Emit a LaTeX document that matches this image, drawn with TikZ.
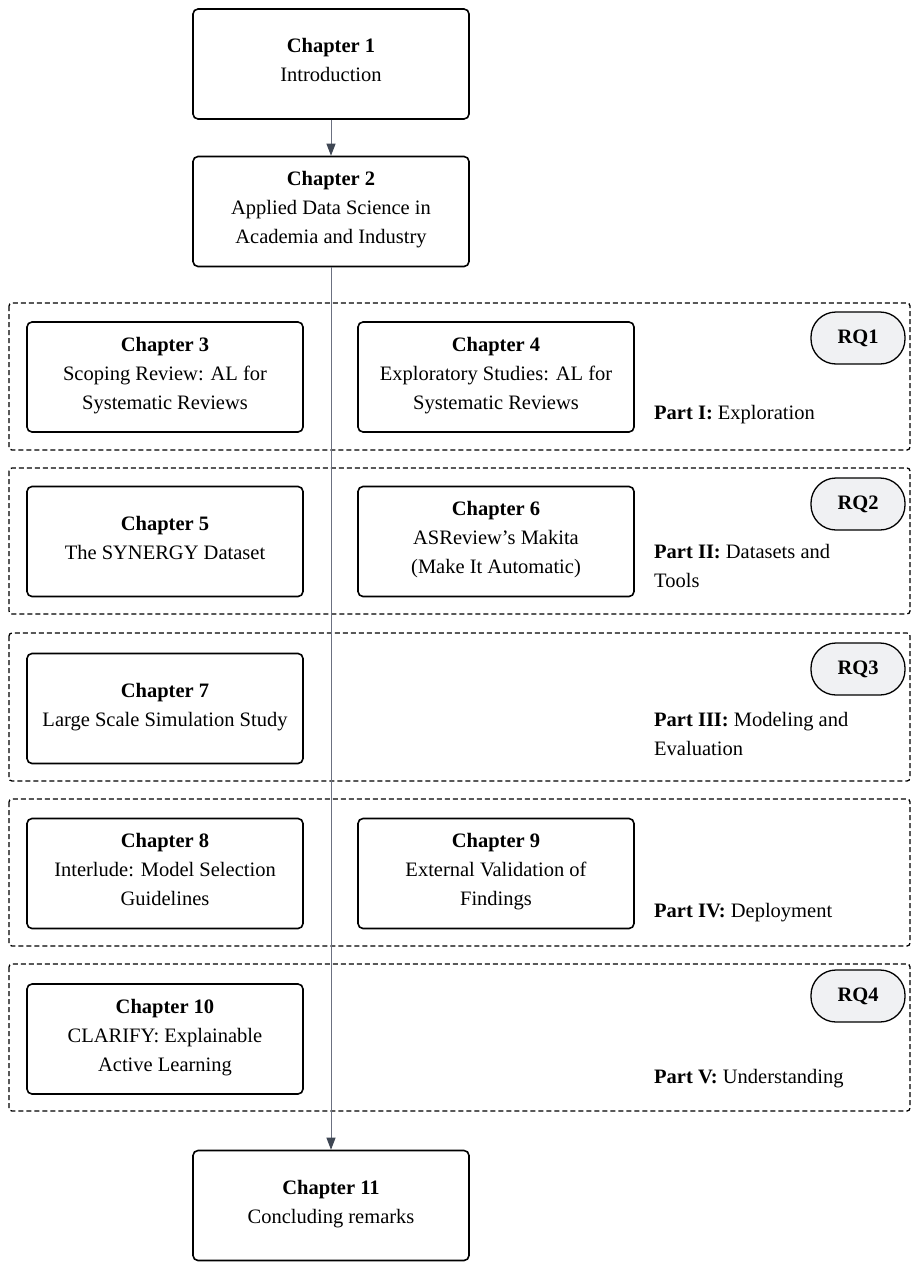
\documentclass[tikz,border=0pt]{standalone}
\usepackage{fontspec}
\setmainfont{Liberation Serif}
\usetikzlibrary{arrows.meta}
\definecolor{linegray}{HTML}{6B7080}
\definecolor{arrowdark}{HTML}{3F4754}
\definecolor{rqfill}{HTML}{F0F1F3}
\tikzset{
  chbox/.style={draw=black, line width=1.6pt, rounded corners=5pt, minimum width=276pt, minimum height=110pt, align=center, font=\fontsize{20.5}{29}\selectfont, inner sep=0pt, text depth=8pt},
  groupbox/.style={draw=black, line width=1.3pt, dashed, dash pattern=on 5pt off 3pt, rounded corners=3pt},
  rqnode/.style={draw=black, line width=1.3pt, fill=rqfill, rounded corners=25pt, minimum width=94pt, minimum height=52pt, font=\fontsize{20.5}{23}\selectfont\bfseries, inner sep=0pt},
  partlabel/.style={anchor=west, align=left, font=\fontsize{20.5}{29}\selectfont, inner sep=0pt},
  flowline/.style={draw=linegray, line width=1pt},
  flowarrow/.style={-{Triangle[length=12pt,width=9pt,color=arrowdark]}}
}
\begin{document}
\begin{tikzpicture}[x=1pt,y=-1pt]
\useasboundingbox (0,0) rectangle (914,1266);
% groups
\draw[groupbox] (9,303) rectangle (910,450);
\draw[groupbox] (9,468) rectangle (910,614);
\draw[groupbox] (9,633) rectangle (910,781);
\draw[groupbox] (9,799) rectangle (910,946);
\draw[groupbox] (9,964) rectangle (910,1111);
% chapters
\node[chbox] (c1) at (331,64) {\textbf{Chapter 1}\\Introduction};
\node[chbox] (c2) at (331,211.5) {\textbf{Chapter 2}\\Applied Data Science in\\Academia and Industry};
\node[chbox] (c3) at (165,377) {\textbf{Chapter 3}\\Scoping Review: AL for\\Systematic Reviews};
\node[chbox] (c4) at (496,377) {\textbf{Chapter 4}\\Exploratory Studies: AL for\\Systematic Reviews};
\node[chbox] (c5) at (165,541.5) {\textbf{Chapter 5}\\The SYNERGY Dataset};
\node[chbox] (c6) at (496,541.5) {\textbf{Chapter 6}\\ASReview's Makita\\(Make It Automatic)};
\node[chbox] (c7) at (165,708.5) {\textbf{Chapter 7}\\Large Scale Simulation Study};
\node[chbox] (c8) at (165,873.5) {\textbf{Chapter 8}\\Interlude: Model Selection\\Guidelines};
\node[chbox] (c9) at (496,873.5) {\textbf{Chapter 9}\\External Validation of\\Findings};
\node[chbox] (c10) at (165,1039) {\textbf{Chapter 10}\\CLARIFY: Explainable\\Active Learning};
\node[chbox] (c11) at (331,1205.5) {\textbf{Chapter 11}\\Concluding remarks};
% RQ nodes
\node[rqnode] (rq1) at (858,338) {RQ1};
\node[rqnode] (rq2) at (858,504) {RQ2};
\node[rqnode] (rq3) at (858,669) {RQ3};
\node[rqnode] (rq4) at (858,996) {RQ4};
% part labels
\node[partlabel] (p1) at (654,415) {\textbf{Part I:} Exploration};
\node[partlabel] (p2) at (654,565.5) {\textbf{Part II:} Datasets and\\Tools};
\node[partlabel] (p3) at (654,733.5) {\textbf{Part III:} Modeling and\\Evaluation};
\node[partlabel] (p4) at (654,913) {\textbf{Part IV:} Deployment};
\node[partlabel] (p5) at (654,1079) {\textbf{Part V:} Understanding};
% connectors
\draw[flowline, flowarrow] (c1) -- (c2);
\draw[flowline, flowarrow] (c2) -- (c11);
\end{tikzpicture}
\end{document}
